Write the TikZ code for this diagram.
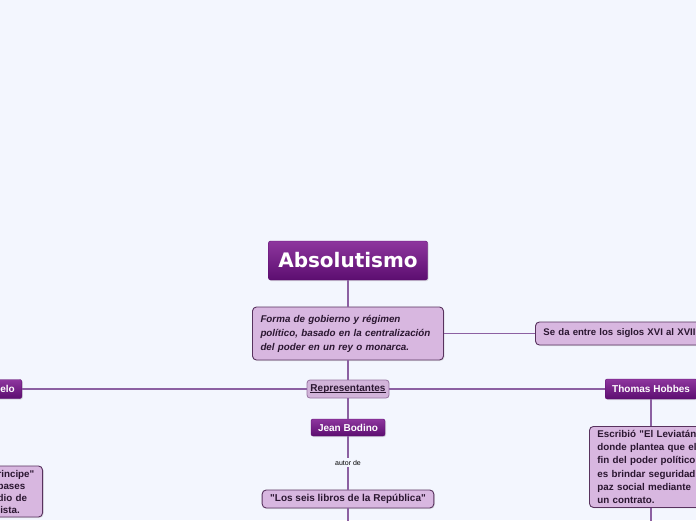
\documentclass[tikz,border=0pt]{standalone}
\usepackage{fontspec}
\setmainfont{Liberation Sans}[Ligatures=TeXOff]
\newfontfamily\titlefont{DejaVu Sans}
\usetikzlibrary{positioning,shadows}
\definecolor{bgcol}{RGB}{243,246,254}
\definecolor{topA}{RGB}{142,54,158}
\definecolor{topB}{RGB}{92,14,112}
\definecolor{notefill}{RGB}{216,183,224}
\definecolor{noteline}{RGB}{88,50,94}
\definecolor{repfill}{RGB}{210,180,218}
\definecolor{repline}{RGB}{150,115,160}
\definecolor{linkcol}{RGB}{140,96,162}
\definecolor{txtcol}{RGB}{42,22,48}
\newcommand\ulword[1]{\setbox0\hbox{#1}\rlap{\copy0}\rule[-1.8pt]{\wd0}{0.8pt}}

\tikzset{
  topic/.style={rounded corners=2pt, top color=topA, bottom color=topB,
    draw=topB, text=white, inner xsep=7pt, inner ysep=0pt,
    font=\bfseries\fontsize{10}{11}\selectfont,
    drop shadow={shadow xshift=1pt, shadow yshift=-1pt, opacity=0.25}},
  note/.style={rounded corners=4pt, fill=notefill, draw=noteline, line width=0.9pt,
    text=txtcol, inner xsep=8pt, inner ysep=3pt, align=left,
    font=\bfseries\fontsize{10}{13.2}\selectfont,
    drop shadow={shadow xshift=1pt, shadow yshift=-1pt, opacity=0.2}},
  repbox/.style={rounded corners=3pt, fill=repfill, draw=repline, line width=0.8pt,
    text=txtcol, inner sep=0pt, font=\bfseries\fontsize{10}{11}\selectfont},
  link/.style={draw=linkcol, line width=1.4pt},
  lbl/.style={fill=bgcol, text=black, inner sep=2pt, font=\fontsize{7}{8}\selectfont}
}

\begin{document}
\begin{tikzpicture}[x=1pt,y=-1pt]
\useasboundingbox[fill=bgcol] (0,0) rectangle (696,520);

% central column
\node[topic, minimum width=159pt, minimum height=39pt,
  font=\titlefont\bfseries\fontsize{20}{24}\selectfont] (absol) at (348,260.5) {Absolutismo};
\node[note, text width=175pt, minimum height=53pt,
  font=\bfseries\itshape\fontsize{9.8}{14}\selectfont] (forma) at (348,333.5)
  {Forma de gobierno y régimen\\ político, basado en la centralización\\ del poder en un rey o monarca.};
\node[note, anchor=west, minimum height=23pt, text width=165pt,
  font=\bfseries\fontsize{9.6}{12}\selectfont] (siglos) at (535,333.5)
  {Se da entre los siglos XVI al XVII};
\node[repbox, minimum width=82pt, minimum height=18pt] (rep) at (348,389)
  {\ulword{Representantes}};

% representantes
\node[topic, anchor=east, minimum height=19pt, text width=50pt, align=right] (maq) at (22,389) {relo};
\node[note, anchor=east, text width=39pt, minimum height=51pt, inner xsep=6pt,
  font=\bfseries\fontsize{9.8}{12}\selectfont] (principe) at (43,491.5)
  {rincipe"\\ bases\\ dio de\\ lista.};
\node[topic, anchor=west, minimum height=20pt] (hobbes) at (605,389) {Thomas Hobbes};
\node[note, anchor=north west, text width=110pt, minimum height=81pt,
  font=\bfseries\fontsize{9.8}{13.2}\selectfont] (leviatan) at (589,426)
  {Escribió "El Leviatán\\ donde plantea que el\\ fin del poder político\\ es brindar seguridad\\ paz social mediante\\ un contrato.};
\node[topic, minimum width=68pt, minimum height=17pt] (bodino) at (348,427.5) {Jean Bodino};
\node[note, minimum width=165pt, minimum height=18pt, inner ysep=0pt] (libros) at (348,499)
  {"Los seis libros de la República"};

\coordinate (libend) at (348,524);

% conectores
\draw[link] (absol) -- (forma);
\draw[link] (forma) -- (siglos);
\draw[link] (forma) -- (rep);
\draw[link] (rep) -- (maq);
\draw[link] (rep) -- (hobbes);
\draw[link] (rep) -- (bodino);
\draw[link] (bodino) -- node[lbl] (autor) {autor de} (libros);
\draw[link] (libros) -- (libend);
\draw[link] (hobbes.south) -- (hobbes.south |- leviatan.north);
\draw[link] (hobbes.south |- leviatan.south) -- (hobbes.south |- libend);

\end{tikzpicture}
\end{document}
